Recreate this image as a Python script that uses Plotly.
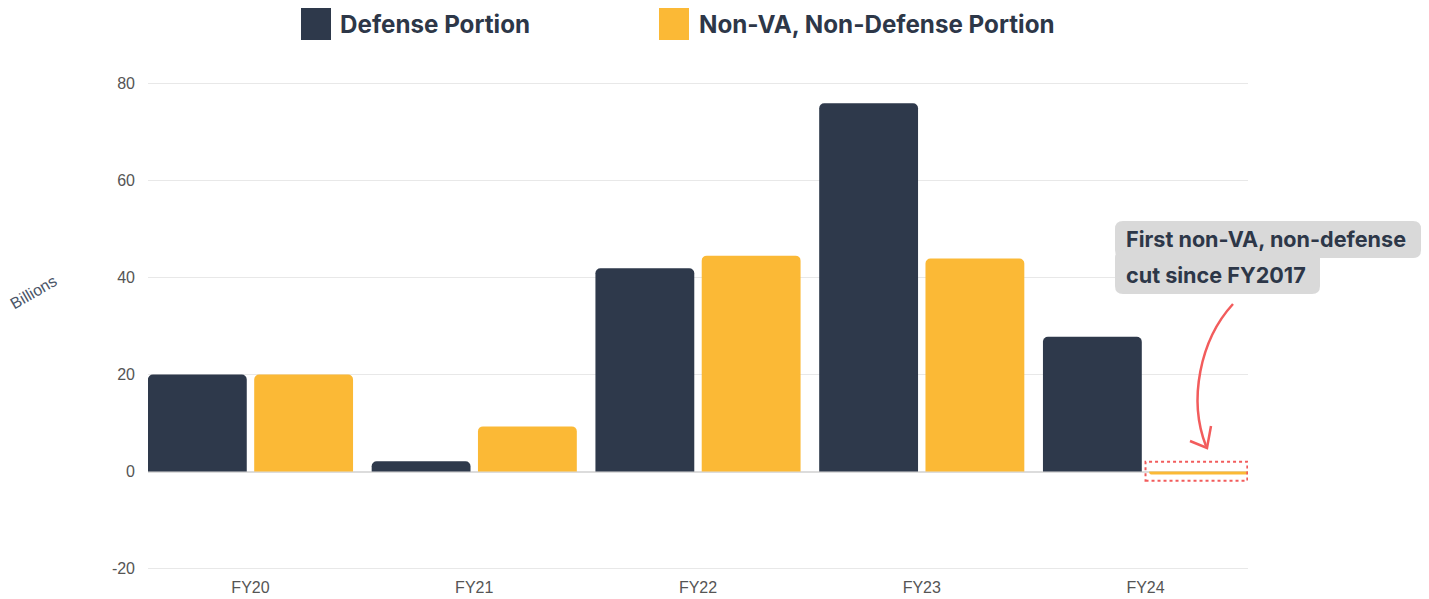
import plotly.graph_objects as go

categories = ["FY20", "FY21", "FY22", "FY23", "FY24"]
defense = [20.0, 2.1, 41.9, 75.9, 27.8]
non_defense = [20.0, 9.3, 44.5, 43.9, -0.6]
series_names = ["Defense Portion", "Non-VA, Non-Defense Portion"]
y_ticks = [-20, 0, 20, 40, 60, 80]
y_tick_text = ["-20", "0", "20", "40", "60", "80"]
note_lines = ["First non-VA, non-defense", "cut since FY2017"]

DARK = "#2e394b"
YELLOW = "#fbb936"
RED = "#f25c5c"
TEXT = "#2d3748"

W, H = 1429, 599
OFF = 8  # page body margin
# plot area in page pixels
L, R, T, B = 148, 1248, 82, 570


def px(x):
    return (x - L) / (R - L)


def py(y):
    return (B - y) / (B - T)


def rrect(x0, y0, x1, y1, r):
    return (
        f"M {px(x0 + r)},{py(y0)} L {px(x1 - r)},{py(y0)} "
        f"Q {px(x1)},{py(y0)} {px(x1)},{py(y0 + r)} "
        f"L {px(x1)},{py(y1 - r)} Q {px(x1)},{py(y1)} {px(x1 - r)},{py(y1)} "
        f"L {px(x0 + r)},{py(y1)} Q {px(x0)},{py(y1)} {px(x0)},{py(y1 - r)} "
        f"L {px(x0)},{py(y0 + r)} Q {px(x0)},{py(y0)} {px(x0 + r)},{py(y0)} Z"
    )


fig = go.Figure()
fig.add_trace(go.Bar(x=categories, y=defense, name=series_names[0],
                     marker=dict(color=DARK, line=dict(width=0)), showlegend=False))
fig.add_trace(go.Bar(x=categories, y=non_defense, name=series_names[1],
                     marker=dict(color=YELLOW, line=dict(width=0)), showlegend=False))

shapes = []
annotations = []

# custom legend
for (sx, tx, color, name) in [(301, 338, DARK, series_names[0]), (659, 697, YELLOW, series_names[1])]:
    shapes.append(dict(type="rect", xref="paper", yref="paper",
                       x0=px(sx), x1=px(sx + 30), y0=py(40), y1=py(8),
                       fillcolor=color, line=dict(width=0)))
    annotations.append(dict(xref="paper", yref="paper", x=px(tx), y=py(25),
                            text=f"<b>{name}</b>", showarrow=False, xanchor="left", yanchor="middle",
                            font=dict(family="Inter", size=24.2, color=TEXT)))

# note box
shapes.append(dict(type="path", xref="paper", yref="paper", path=rrect(1115, 221, 1421, 258, 8),
                   fillcolor="#d9d9d9", line=dict(width=0), layer="above"))
shapes.append(dict(type="path", xref="paper", yref="paper", path=rrect(1115, 250, 1320, 294, 8),
                   fillcolor="#d9d9d9", line=dict(width=0), layer="above"))
annotations.append(dict(xref="paper", yref="paper", x=px(1124), y=py(239),
                        text=f"<b>{note_lines[0]}</b>", showarrow=False, xanchor="left", yanchor="middle",
                        font=dict(family="Inter", size=21.6, color=TEXT)))
annotations.append(dict(xref="paper", yref="paper", x=px(1124), y=py(275),
                        text=f"<b>{note_lines[1]}</b>", showarrow=False, xanchor="left", yanchor="middle",
                        font=dict(family="Inter", size=21.6, color=TEXT)))

# curved arrow
shapes.append(dict(type="path", xref="paper", yref="paper",
                   path=f"M {px(1233)},{py(304)} C {px(1200)},{py(340)} {px(1188)},{py(400)} {px(1206)},{py(446)}",
                   line=dict(color=RED, width=2.5)))
shapes.append(dict(type="path", xref="paper", yref="paper",
                   path=f"M {px(1190)},{py(441)} L {px(1207)},{py(448)} L {px(1211)},{py(426)}",
                   line=dict(color=RED, width=2.5)))

# dotted highlight around FY24 non-defense bar
shapes.append(dict(type="rect", xref="x", yref="y", x0=4.0, x1=4.455, y0=-1.9, y1=2.0,
                   line=dict(color=RED, width=2, dash="dot"), fillcolor="rgba(0,0,0,0)"))

# y-axis title
annotations.append(dict(xref="paper", yref="paper", x=px(33), y=py(292),
                        xanchor="center", yanchor="middle",
                        text="Billions", showarrow=False, textangle=-30,
                        font=dict(family="Liberation Sans", size=16, color="#4a5568")))

fig.update_layout(
    width=W, height=H,
    margin=dict(l=L - OFF, r=W - (R - OFF), t=T - OFF, b=H - (B - OFF)),
    plot_bgcolor="white", paper_bgcolor="white",
    barmode="group", bargap=0.05, bargroupgap=0.07,
    barcornerradius=5,
    shapes=shapes, annotations=annotations,
    showlegend=False,
    font=dict(family="Liberation Sans", color="#555555"),
)
fig.update_xaxes(range=[-0.458, 4.458], showgrid=False, zeroline=False, showline=False,
                 tickfont=dict(size=16, color="#555555"), ticks="", ticklabelstandoff=6)
fig.update_yaxes(range=[-20.3, 80.3], tickvals=y_ticks, ticktext=y_tick_text,
                 showgrid=True, gridcolor="#e8e8e8", gridwidth=1,
                 zeroline=True, zerolinecolor="#dcdcdc", zerolinewidth=1.5, showline=False,
                 tickfont=dict(size=16, color="#555555"), ticklabelstandoff=12)

fig.write_html("out.html")
